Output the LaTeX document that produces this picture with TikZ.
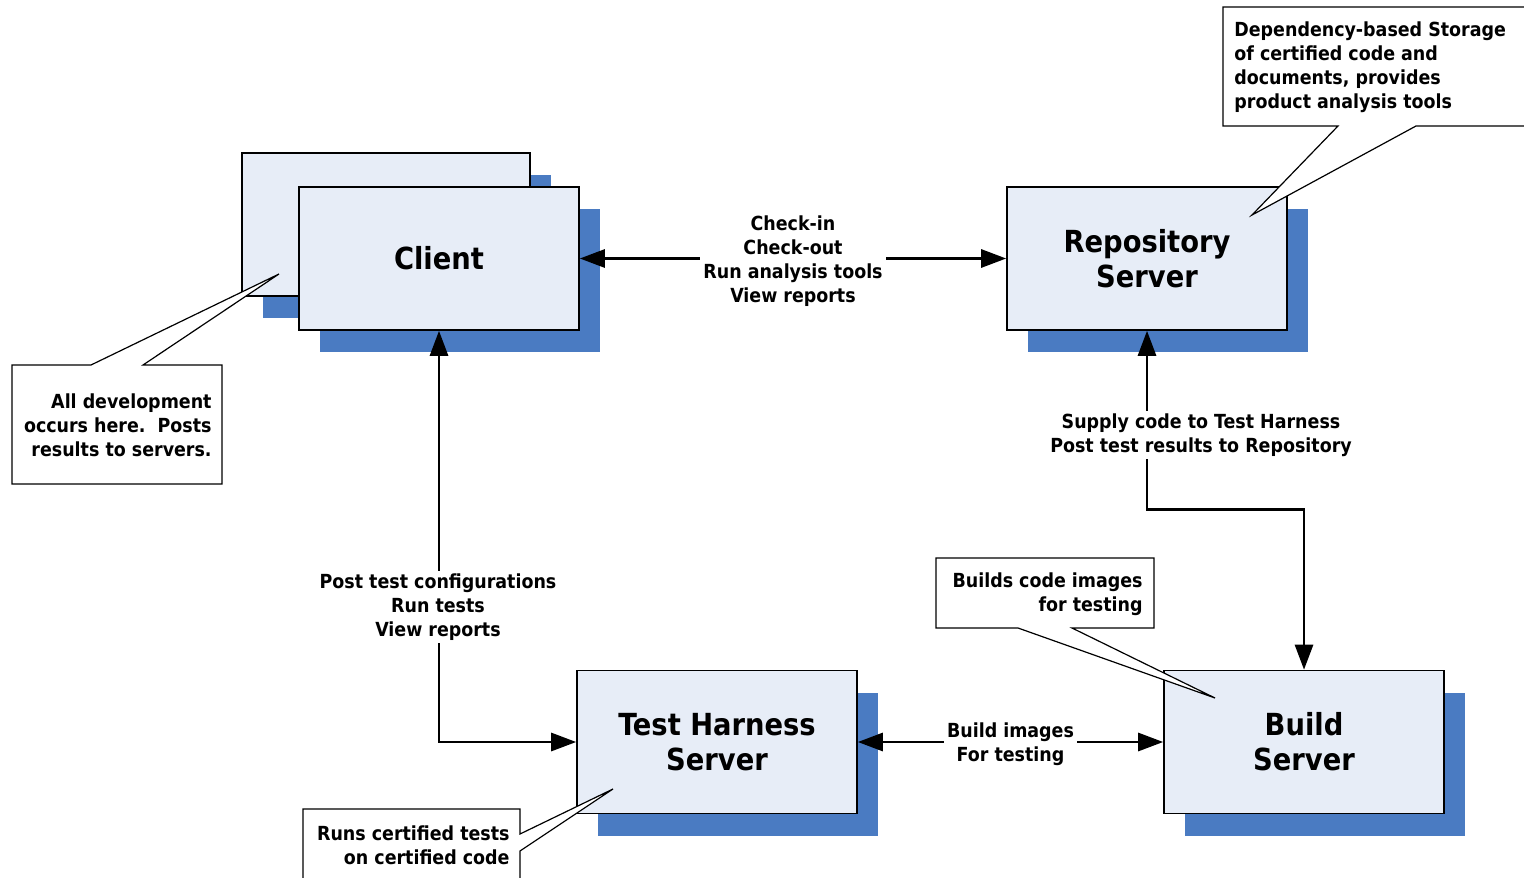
\documentclass[tikz,border=0pt]{standalone}
\usepackage{fontspec}
\setmainfont{DejaVu Sans Condensed}
\usetikzlibrary{arrows.meta,shadows}
\definecolor{boxfill}{HTML}{E7EDF7}
\definecolor{shadowblue}{HTML}{4A7BC2}
\tikzset{
  server/.style={draw=black, line width=0.8pt, fill=boxfill, inner sep=0pt,
    minimum width=140pt, minimum height=71.5pt, align=center,
    font=\fontsize{15.2}{17.5}\selectfont\bfseries,
    drop shadow={shadow xshift=10.5pt, shadow yshift=-11pt, fill=shadowblue, opacity=1}},
  link/.style={line width=1.4pt,
    {Triangle[length=12.5pt,width=9pt]}-{Triangle[length=12.5pt,width=9pt]}},
  tag/.style={fill=white, inner sep=1.5pt, align=center,
    font=\fontsize{9.7}{12}\selectfont\bfseries},
  callout/.style={draw=black, line width=0.6pt, fill=white, line join=miter},
  note/.style={inner sep=0pt, font=\fontsize{9.7}{12}\selectfont\bfseries}
}
\begin{document}
\begin{tikzpicture}[x=0.5pt, y=-0.5pt]
\useasboundingbox (0,0) rectangle (1524,877);

% client workstations (one behind the other)
\node[server, minimum width=144pt] (clientback) at (386,224.5) {};
\node[server] (client) at (439,258.5) {Client};
\node[server] (repo) at (1147,258.5) {Repository\\Server};
\node[server] (harness) at (717,742) {Test Harness\\Server};
\node[server] (build) at (1304,742) {Build\\Server};

% connectors
\draw[link] (client.east) -- (repo.west)
  node[tag, midway, yshift=-1.5pt] {Check-in\\Check-out\\Run analysis tools\\View reports};
\draw[link] (repo.south) -- ++(0,179) -| (build.north);
\node[tag] (supplylabel) at (1201,435) {Supply code to Test Harness\\Post test results to Repository};
\draw[link] (client.south) |- (harness.west);
\node[tag] (postlabel) at (438,607) {Post test configurations\\Run tests\\View reports};
\draw[link] (harness.east) -- (build.west)
  node[tag, midway, yshift=-1pt] {Build images\\For testing};

% callouts
\draw[callout] (12,365) -- (91,365) -- (279,274) -- (143,365) -- (222,365)
  -- (222,484) -- (12,484) -- cycle;
\node[note, anchor=east, align=right] (devnote) at (212,425)
  {All development\\occurs here.\ \ Posts\\results to servers.};

\draw[callout] (1223,7) -- (1540,7) -- (1540,126) -- (1416,126) -- (1252,215)
  -- (1338,126) -- (1223,126) -- cycle;
\node[note, anchor=west, align=left] (reponote) at (1234,67)
  {Dependency-based Storage\\of certified code and\\documents, provides\\product analysis tools};

\draw[callout] (303,900) -- (303,809) -- (520,809) -- (520,834) -- (613,789)
  -- (520,851) -- (520,900);
\node[note, anchor=east, align=right] (harnessnote) at (510,845)
  {Runs certified tests\\on certified code};

\draw[callout] (936,558) -- (1154,558) -- (1154,628) -- (1072,628) -- (1215,698)
  -- (1018,628) -- (936,628) -- cycle;
\node[note, anchor=east, align=right] (buildnote) at (1143,594)
  {Builds code images\\for testing};
\end{tikzpicture}
\end{document}
